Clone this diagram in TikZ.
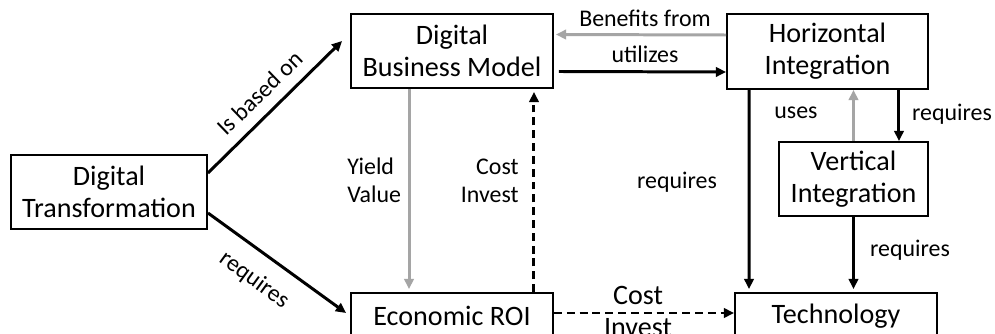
\documentclass[tikz,border=0pt]{standalone}
\usepackage{fontspec}
\setmainfont{Carlito}
\usetikzlibrary{arrows.meta}
\definecolor{arrgray}{RGB}{165,165,165}
\tikzset{
  box/.style={draw=black, line width=1.1pt, inner sep=0pt, align=center,
    font=\fontsize{16}{18.1}\selectfont},
  lbl/.style={inner sep=0pt, font=\fontsize{13.6}{18}\selectfont},
  biglbl/.style={inner sep=0pt, font=\fontsize{16}{18.1}\selectfont},
  blk/.style={line width=1.7pt, -{Triangle[length=5.8pt,width=5.4pt]}},
  gry/.style={line width=1.7pt, draw=arrgray, -{Triangle[length=5.8pt,width=5.4pt]}},
  dsh/.style={line width=1.7pt, dash pattern=on 4.5pt off 2.8pt, -{Triangle[length=5.8pt,width=5.4pt]}},
}
\begin{document}
\begin{tikzpicture}[x=0.02cm,y=-0.02cm]
\useasboundingbox (0,0) rectangle (995,334);
\clip (0,0) rectangle (995,334);
\fill[white] (0,0) rectangle (995,334);
% boxes
\node[box, minimum width=196*0.02cm, minimum height=74*0.02cm] (dt) at (109,192) {Digital\\Transformation};
\node[box, minimum width=202*0.02cm, minimum height=74*0.02cm] (dbm) at (452,51) {Digital\\Business Model};
\node[box, minimum width=201*0.02cm, minimum height=75*0.02cm] (h) at (827.5,51.5) {Horizontal\\Integration};
\node[box, minimum width=149*0.02cm, minimum height=74*0.02cm] (v) at (853.5,179) {Vertical\\Integration};
\node[box, minimum width=202*0.02cm, minimum height=46*0.02cm] (roi) at (452,316) {Economic ROI};
\node[box, minimum width=202*0.02cm, minimum height=46*0.02cm] (tech) at (836,316) {Technology};
% connectors
\draw[blk] ([yshift=0.38cm]dt.east) -- ([xshift=-0.16cm,yshift=0.2cm]dbm.west);
\draw[blk] ([yshift=-0.42cm]dt.east) -- ([xshift=-0.08cm,yshift=0.06cm]roi.west);
\draw[gry] ([xshift=-0.86cm]dbm.south) -- ([xshift=-0.86cm,yshift=0.06cm]roi.north);
\draw[dsh] ([xshift=1.64cm]roi.north) -- ([xshift=1.64cm,yshift=-0.06cm]dbm.south);
\draw[gry] ([yshift=0.33cm]h.west) -- ([xshift=0.04cm,yshift=0.33cm]dbm.east);
\draw[blk] ([xshift=0.1cm,yshift=-0.41cm]dbm.east) -- ([yshift=-0.41cm]h.west);
\draw[blk] ([xshift=-1.57cm]h.south) -- ([xshift=-1.74cm,yshift=0.06cm]tech.north);
\draw[gry] (v.north) -- (h.south -| v.north);
\draw[blk] ([xshift=1.43cm]h.south) -- ([xshift=1.43cm]h.south |- v.north);
\draw[blk] (v.south) -- ([yshift=0.06cm]v.south |- tech.north);
\draw[dsh] ([yshift=0.06cm]roi.east) -- ([yshift=0.06cm]tech.west);
% labels
\node[lbl, rotate=44] (l1) at (260,93) {Is based on};
\node[lbl, rotate=-36] (l2) at (254,280) {requires};
\node[lbl, anchor=base west, align=left] (l3) at (347,175) {Yield};
\node[lbl, anchor=base west, align=left] (l3b) at (347,203) {Value};
\node[lbl, anchor=base east] (l4) at (519,175) {Cost};
\node[lbl, anchor=base east] (l4b) at (519,203) {Invest};
\node[lbl, anchor=base] (l5) at (645,27) {Benefits from};
\node[lbl, anchor=base] (l6) at (645,63) {utilizes};
\node[lbl, anchor=base] (l7) at (677,189) {requires};
\node[lbl, anchor=base] (l8) at (796,119) {uses};
\node[lbl, anchor=base] (l9) at (952,121) {requires};
\node[lbl, anchor=base] (l10) at (910,257) {requires};
\node[biglbl, anchor=base] (l11) at (638,305) {Cost};
\node[biglbl, anchor=base] (l12) at (638,337) {Invest};
\end{tikzpicture}
\end{document}
